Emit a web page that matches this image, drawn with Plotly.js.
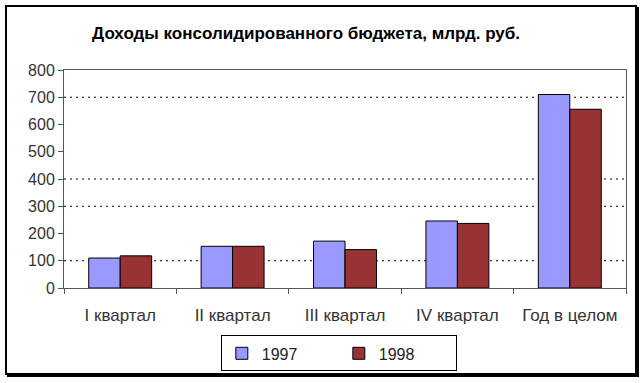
<!DOCTYPE html>
<html>
<head>
<meta charset="utf-8">
<script src="https://cdn.plot.ly/plotly-3.0.1.min.js"></script>
<style>
html,body{margin:0;padding:0;background:#fff;}
#frame{position:absolute;left:5px;top:5px;width:628px;height:366px;border:2px solid #000;box-shadow:2px 2px 0 #000;}
#chart{position:absolute;left:0;top:0;width:643px;height:383px;}
</style>
</head>
<body>
<div id="frame"></div>
<div id="chart"></div>
<script>
const categories = ["I квартал", "II квартал", "III квартал", "IV квартал", "Год в целом"];
const values1997 = [110, 153, 172, 246, 710];
const values1998 = [118, 153, 141, 237, 656];
const seriesNames = ["1997", "1998"];
const gridValues = [100, 300, 400, 700];
const yTicks = [0, 100, 200, 300, 400, 500, 600, 700, 800];

const font = "Liberation Sans, Arial, sans-serif";

const traces = [
  {type: "bar", name: seriesNames[0], x: categories, y: values1997,
   marker: {color: "#9999FF", line: {color: "#000", width: 1}}},
  {type: "bar", name: seriesNames[1], x: categories, y: values1998,
   marker: {color: "#993333", line: {color: "#000", width: 1}}}
];

const shapes = gridValues.map(v => ({
  type: "line", xref: "paper", x0: 0, x1: 1, yref: "y", y0: v, y1: v,
  line: {color: "#000", width: 1, dash: "2px,4px"}, layer: "below"
}));

const layout = {
  width: 643, height: 383,
  margin: {l: 64, r: 17, t: 70, b: 93},
  paper_bgcolor: "rgba(0,0,0,0)",
  plot_bgcolor: "#fff",
  font: {family: font, size: 13, color: "#222"},
  title: {text: "Доходы консолидированного бюджета, млрд. руб.",
          font: {family: font, size: 17, color: "#000", weight: "bold"},
          x: 0.476, xref: "container", xanchor: "center",
          y: 0.915, yref: "container", yanchor: "middle"},
  barmode: "group",
  bargap: 0.44,
  bargroupgap: 0,
  showlegend: true,
  legend: {orientation: "h", x: 0.489, xanchor: "center", xref: "paper",
           y: -0.30, yanchor: "middle",
           bordercolor: "#000", borderwidth: 1, bgcolor: "#fff",
           entrywidth: 72, entrywidthmode: "pixels",
           font: {family: font, size: 16, color: "#222"},
           itemwidth: 30},
  xaxis: {type: "category", showline: true, linecolor: "#555", linewidth: 1,
          mirror: true, ticks: "outside", tickson: "boundaries", ticklen: 5,
          tickcolor: "#555", showgrid: false,
          tickfont: {family: font, size: 17, color: "#333"}, ticklabelstandoff: 12},
  yaxis: {range: [0, 800], tickvals: yTicks, showline: true, linecolor: "#555",
          linewidth: 1, mirror: true, ticks: "outside", ticklen: 5, tickcolor: "#555",
          showgrid: false, zeroline: false,
          tickfont: {family: font, size: 16, color: "#333"}},
  shapes: shapes
};

Plotly.newPlot("chart", traces, layout, {displayModeBar: false, staticPlot: true});
</script>
</body>
</html>
